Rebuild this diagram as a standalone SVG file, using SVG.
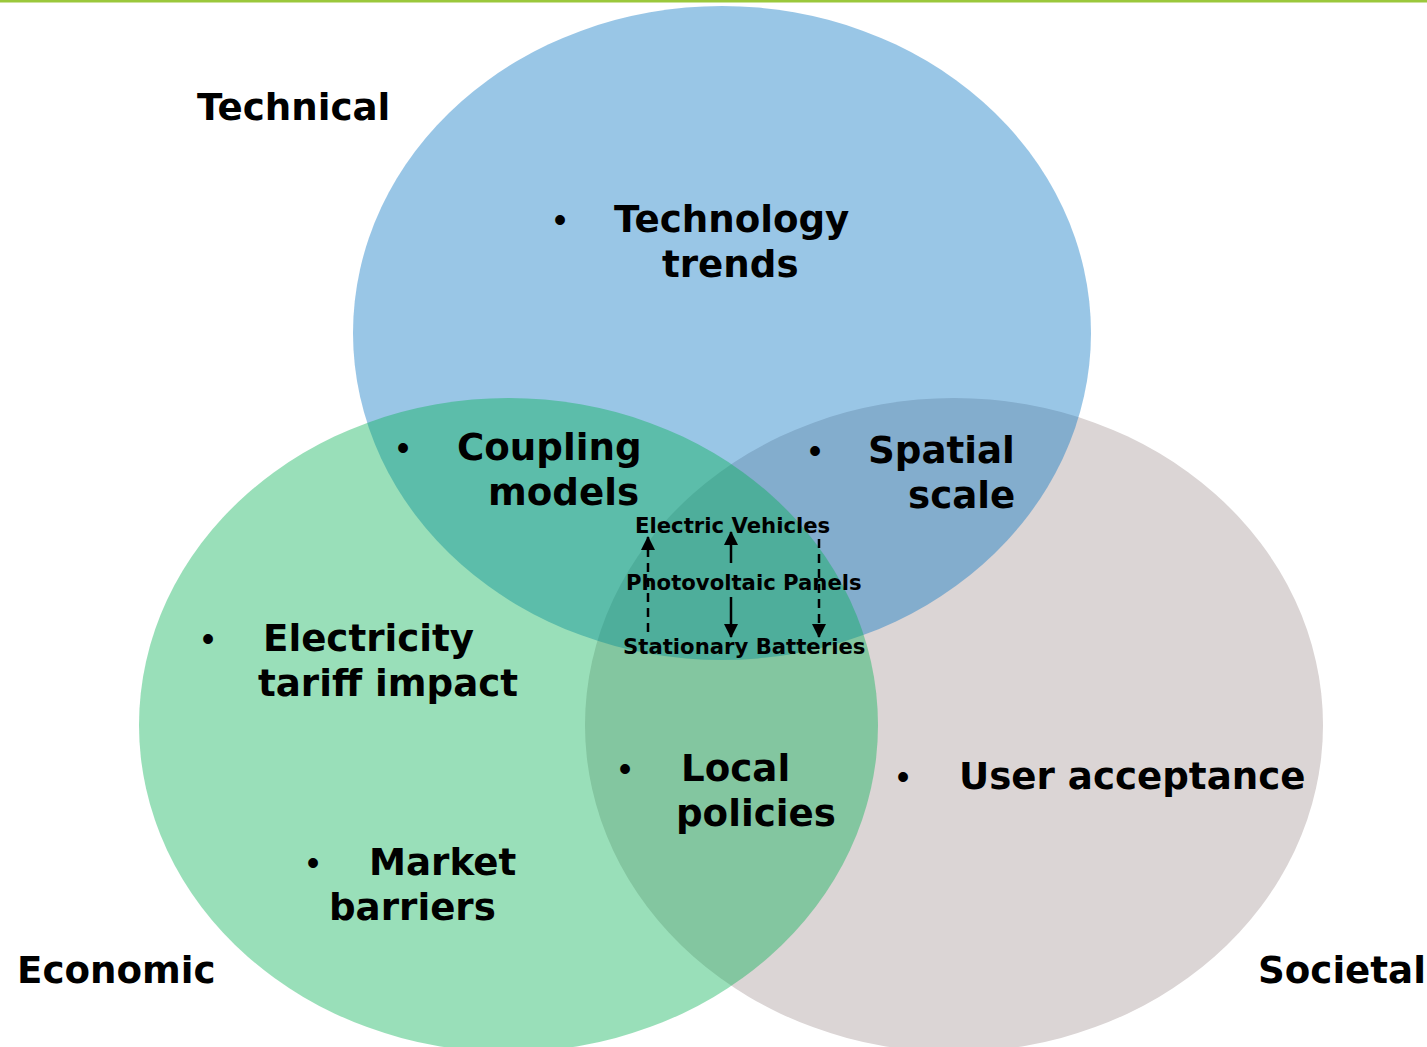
<svg xmlns="http://www.w3.org/2000/svg" width="1427" height="1047" viewBox="0 0 1427 1047">
  <style>
    .lbl { font-family: "DejaVu Sans", Verdana, sans-serif; font-weight: bold; font-size: 37.2px; fill: #000; }
    .sm { font-family: "DejaVu Sans", Verdana, sans-serif; font-weight: bold; font-size: 21.2px; fill: #000; }
    .bul { font-family: "Liberation Sans", Arial, sans-serif; font-size: 36px; fill: #000; text-anchor: middle; }
    .arr { stroke: #000; stroke-width: 2.5; fill: none; }
    .dash { stroke-dasharray: 9 6; }
  </style>
  <defs>
    <marker id="head" viewBox="0 0 14 15" refX="13" refY="7" markerWidth="14" markerHeight="15" markerUnits="userSpaceOnUse" orient="auto">
      <path d="M0,0 L14,7 L0,14 Z" fill="#000"/>
    </marker>
  </defs>

  <rect width="1427" height="1047" fill="#fff"/>
  <rect x="0" y="0" width="1427" height="2.5" fill="#9BC83C"/>

  <!-- circles -->
  <g id="circle-societal">
    <ellipse cx="954" cy="725" rx="369" ry="327" fill="#DBD5D5"/>
  </g>
  <g id="circle-technical">
    <ellipse cx="722" cy="333" rx="369" ry="327" fill="#0070C0" fill-opacity="0.4"/>
  </g>
  <g id="circle-economic">
    <ellipse cx="508.5" cy="725" rx="369.5" ry="327" fill="#00B050" fill-opacity="0.4"/>
  </g>

  <!-- category titles -->
  <g id="title-technical"><text class="lbl" x="197" y="120">Technical</text></g>
  <g id="title-economic"><text class="lbl" x="17" y="983">Economic</text></g>
  <g id="title-societal"><text class="lbl" x="1258" y="983">Societal</text></g>

  <!-- bulleted items -->
  <g id="item-technology-trends">
    <text class="bul" x="560" y="232">•</text>
    <text class="lbl" x="614" y="232">Technology</text>
    <text class="lbl" x="662" y="277">trends</text>
  </g>
  <g id="item-coupling-models">
    <text class="bul" x="403" y="460">•</text>
    <text class="lbl" x="457" y="460">Coupling</text>
    <text class="lbl" x="488" y="505">models</text>
  </g>
  <g id="item-spatial-scale">
    <text class="bul" x="815" y="463">•</text>
    <text class="lbl" x="868" y="463">Spatial</text>
    <text class="lbl" x="908" y="508">scale</text>
  </g>
  <g id="item-electricity-tariff">
    <text class="bul" x="208" y="651">•</text>
    <text class="lbl" x="263" y="651">Electricity</text>
    <text class="lbl" x="258" y="696">tariff impact</text>
  </g>
  <g id="item-market-barriers">
    <text class="bul" x="313" y="875">•</text>
    <text class="lbl" x="369" y="875">Market</text>
    <text class="lbl" x="329" y="920">barriers</text>
  </g>
  <g id="item-local-policies">
    <text class="bul" x="625" y="781">•</text>
    <text class="lbl" x="681" y="781">Local</text>
    <text class="lbl" x="676" y="826">policies</text>
  </g>
  <g id="item-user-acceptance">
    <text class="bul" x="903" y="789">•</text>
    <text class="lbl" x="959" y="789">User acceptance</text>
  </g>

  <!-- technology nodes in the centre -->
  <g id="node-ev"><text class="sm" x="635" y="533">Electric Vehicles</text></g>
  <g id="node-pv"><text class="sm" x="626" y="590">Photovoltaic Panels</text></g>
  <g id="node-battery"><text class="sm" x="623" y="654">Stationary Batteries</text></g>

  <!-- connectors -->
  <g id="connectors">
    <line class="arr dash" x1="648" y1="632" x2="648" y2="537" marker-end="url(#head)"/>
    <line class="arr" x1="731" y1="563" x2="731" y2="532" marker-end="url(#head)"/>
    <line class="arr" x1="731" y1="597" x2="731" y2="637" marker-end="url(#head)"/>
    <line class="arr dash" x1="819" y1="539" x2="819" y2="637" marker-end="url(#head)"/>
  </g>
</svg>
